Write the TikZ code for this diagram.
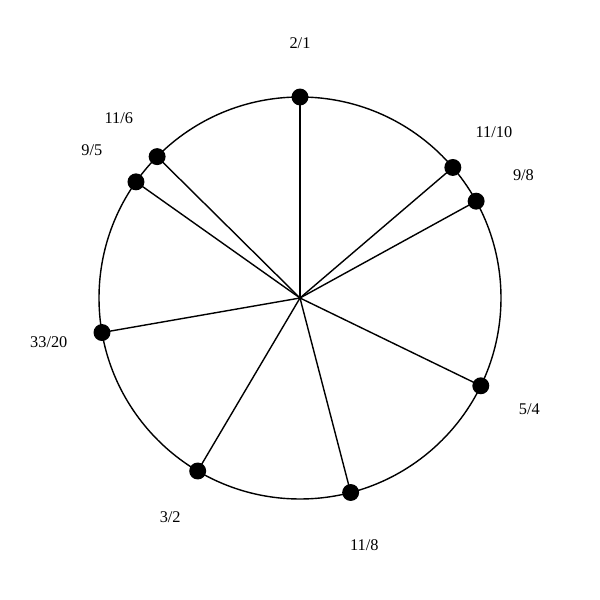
\documentclass[tikz,border=0pt]{standalone}
\usepackage{fontspec}
\setmainfont{Liberation Serif}
\usetikzlibrary{calc}
\begin{document}
\begin{tikzpicture}
[line width=.8pt, dot/.style ={draw,shape=circle, fill=black, inner sep=0pt, minimum size=.31cm},
lab/.style ={font=\fontsize{9.3}{11}\selectfont}]
\useasboundingbox (0,0) rectangle (12,12);
\coordinate (o) at (6,6.04);
\draw (o) circle (4.02);
% ratios placed at 90 - 360*log2(r) degrees
\node[dot] (p21) at ($(o)+(90:4.02)$) {};
\node[dot] (p1110) at ($(o)+(40.5:4.02)$) {};
\node[dot] (p98) at ($(o)+(28.8:4.02)$) {};
\node[dot] (p54) at ($(o)+(-25.9:4.02)$) {};
\node[dot] (p118) at ($(o)+(-75.4:4.02)$) {};
\node[dot] (p32) at ($(o)+(-120.6:4.02)$) {};
\node[dot] (p3320) at ($(o)+(-170.1:4.02)$) {};
\node[dot] (p95) at ($(o)+(144.7:4.02)$) {};
\node[dot] (p116) at ($(o)+(135.3:4.02)$) {};
\foreach \p in {p21,p1110,p98,p54,p118,p32,p3320,p95,p116}
  \draw (o) -- (\p.center);
\node[lab] at ($(o)+(90:5.1)$) {2/1};
\node[lab] at ($(o)+(40.5:5.1)$) {11/10};
\node[lab] at ($(o)+(28.8:5.1)$) {9/8};
\node[lab] at ($(o)+(-25.9:5.1)$) {5/4};
\node[lab] at ($(o)+(-75.4:5.1)$) {11/8};
\node[lab] at ($(o)+(-120.6:5.1)$) {3/2};
\node[lab] at ($(o)+(-170.1:5.1)$) {33/20};
\node[lab] at ($(o)+(144.7:5.1)$) {9/5};
\node[lab] at ($(o)+(135.3:5.1)$) {11/6};
\end{tikzpicture}
\end{document}
